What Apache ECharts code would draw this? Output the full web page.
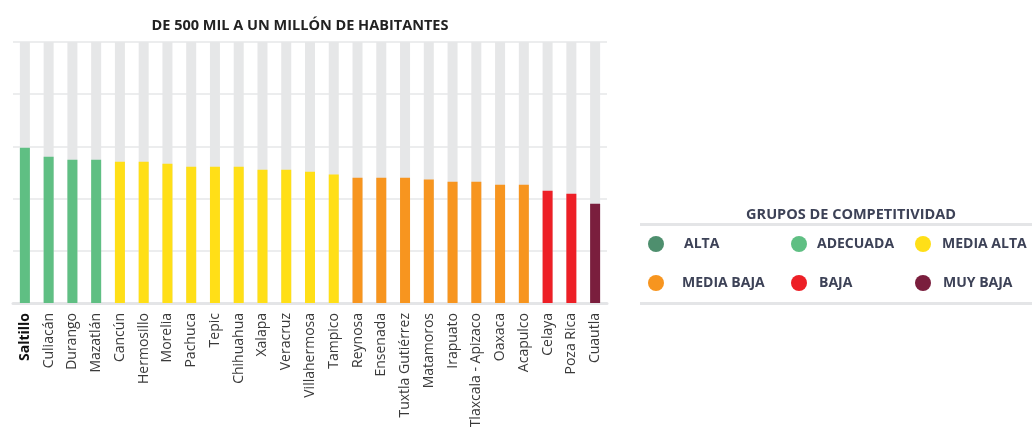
<!DOCTYPE html>
<html>
<head>
<meta charset="utf-8">
<script src="https://cdn.jsdelivr.net/npm/echarts@6/dist/echarts.min.js"></script>
<style>
  html, body { margin: 0; padding: 0; background: #fff; }
  #chart { width: 1032px; height: 427px; }
</style>
</head>
<body>
<div id="chart"></div>
<script>
// datos
const ciudades = ['Saltillo', 'Culiacán', 'Durango', 'Mazatlán', 'Cancún', 'Hermosillo', 'Morelia',
  'Pachuca', 'Tepic', 'Chihuahua', 'Xalapa', 'Veracruz', 'Villahermosa', 'Tampico', 'Reynosa',
  'Ensenada', 'Tuxtla Gutiérrez', 'Matamoros', 'Irapuato', 'Tlaxcala - Apizaco', 'Oaxaca',
  'Acapulco', 'Celaya', 'Poza Rica', 'Cuautla']
const valores = [59.5, 56.0, 54.9, 54.9, 54.1, 54.1, 53.4, 52.2, 52.2, 52.2, 51.1, 51.1, 50.3,
  49.2, 48.0, 48.0, 48.0, 47.3, 46.5, 46.5, 45.3, 45.3, 43.0, 41.9, 38.0]
// grupo de cada ciudad (índice en grupos)
const grupoCiudad = [1, 1, 1, 1, 2, 2, 2, 2, 2, 2, 2, 2, 2, 2, 3, 3, 3, 3, 3, 3, 3, 3, 4, 4, 5]
const grupos = ['ALTA', 'ADECUADA', 'MEDIA ALTA', 'MEDIA BAJA', 'BAJA', 'MUY BAJA']

// estilos
const colores = ['#4e8f6e', '#5fbf83', '#ffdf17', '#f7951f', '#ed1f26', '#7a1e3d']
const textoLeyenda = '#3d4257'
// posición de cada item de la leyenda: [circulo izq, top, espacio al texto]
const posLeyenda = [
  [648, 236, 20], [791, 236, 10], [915, 236, 11],
  [648, 275, 18], [791, 275, 12], [915, 275, 12]
]

var myChart = echarts.init(document.getElementById('chart'))

function getOptions() {
  let barData = valores.map((v, i) => ({
    value: v,
    itemStyle: { color: colores[grupoCiudad[i]] }
  }))

  let legends = grupos.map((g, i) => ({
    data: [g],
    left: posLeyenda[i][0],
    top: posLeyenda[i][1],
    icon: 'circle',
    itemWidth: 16,
    itemHeight: 16,
    selectedMode: false,
    padding: 0,
    textStyle: {
      color: textoLeyenda,
      fontFamily: 'Open Sans',
      fontWeight: 'bold',
      fontSize: 14,
      padding: [0, 0, 0, posLeyenda[i][2] - 5]
    }
  }))

  let dummySeries = grupos.map((g, i) => ({
    name: g,
    type: 'line',
    data: [],
    itemStyle: { color: colores[i] }
  }))

  return {
    animation: false,
    title: [
      {
        text: 'DE 500 MIL A UN MILLÓN DE HABITANTES',
        left: 295,
        top: 13,
        textAlign: 'center',
        textStyle: { fontFamily: 'Open Sans', fontWeight: 'bold', fontSize: 14.5, color: '#222' }
      },
      {
        text: 'GRUPOS DE COMPETITIVIDAD',
        left: 846,
        top: 202,
        textAlign: 'center',
        textStyle: { fontFamily: 'Open Sans', fontWeight: 'bold', fontSize: 14.5, color: textoLeyenda }
      }
    ],
    legend: legends,
    graphic: [
      { type: 'rect', shape: { x: 640, y: 223, width: 392, height: 3 }, style: { fill: '#e4e5e7' } },
      { type: 'rect', shape: { x: 640, y: 302, width: 392, height: 3 }, style: { fill: '#e4e5e7' } }
    ],
    grid: {
      left: 13,
      right: 425,
      top: 42,
      bottom: 124,
      containLabel: false,
      outerBoundsMode: 'none'
    },
    xAxis: {
      type: 'category',
      data: ciudades,
      axisTick: { show: false },
      axisLine: { lineStyle: { color: '#e4e5e7', width: 3 } },
      axisLabel: {
        rotate: 90,
        interval: 0,
        margin: 10,
        fontFamily: 'Open Sans',
        fontSize: 14,
        color: '#3a3a3a',
        formatter: (v, i) => i === 0 ? '{b|' + v + '}' : v,
        rich: {
          b: { fontFamily: 'Open Sans', fontSize: 14, fontWeight: 'bold', color: '#111' }
        }
      }
    },
    yAxis: {
      type: 'value',
      min: 0,
      max: 100,
      interval: 20,
      axisLabel: { show: false },
      axisLine: { show: false },
      axisTick: { show: false },
      splitLine: { lineStyle: { color: '#e6e7e8', width: 1.5 } }
    },
    series: [
      {
        type: 'bar',
        data: barData,
        barWidth: 10,
        showBackground: true,
        backgroundStyle: { color: '#e6e7e8' }
      }
    ].concat(dummySeries)
  }
}

myChart.setOption(getOptions())
</script>
</body>
</html>
